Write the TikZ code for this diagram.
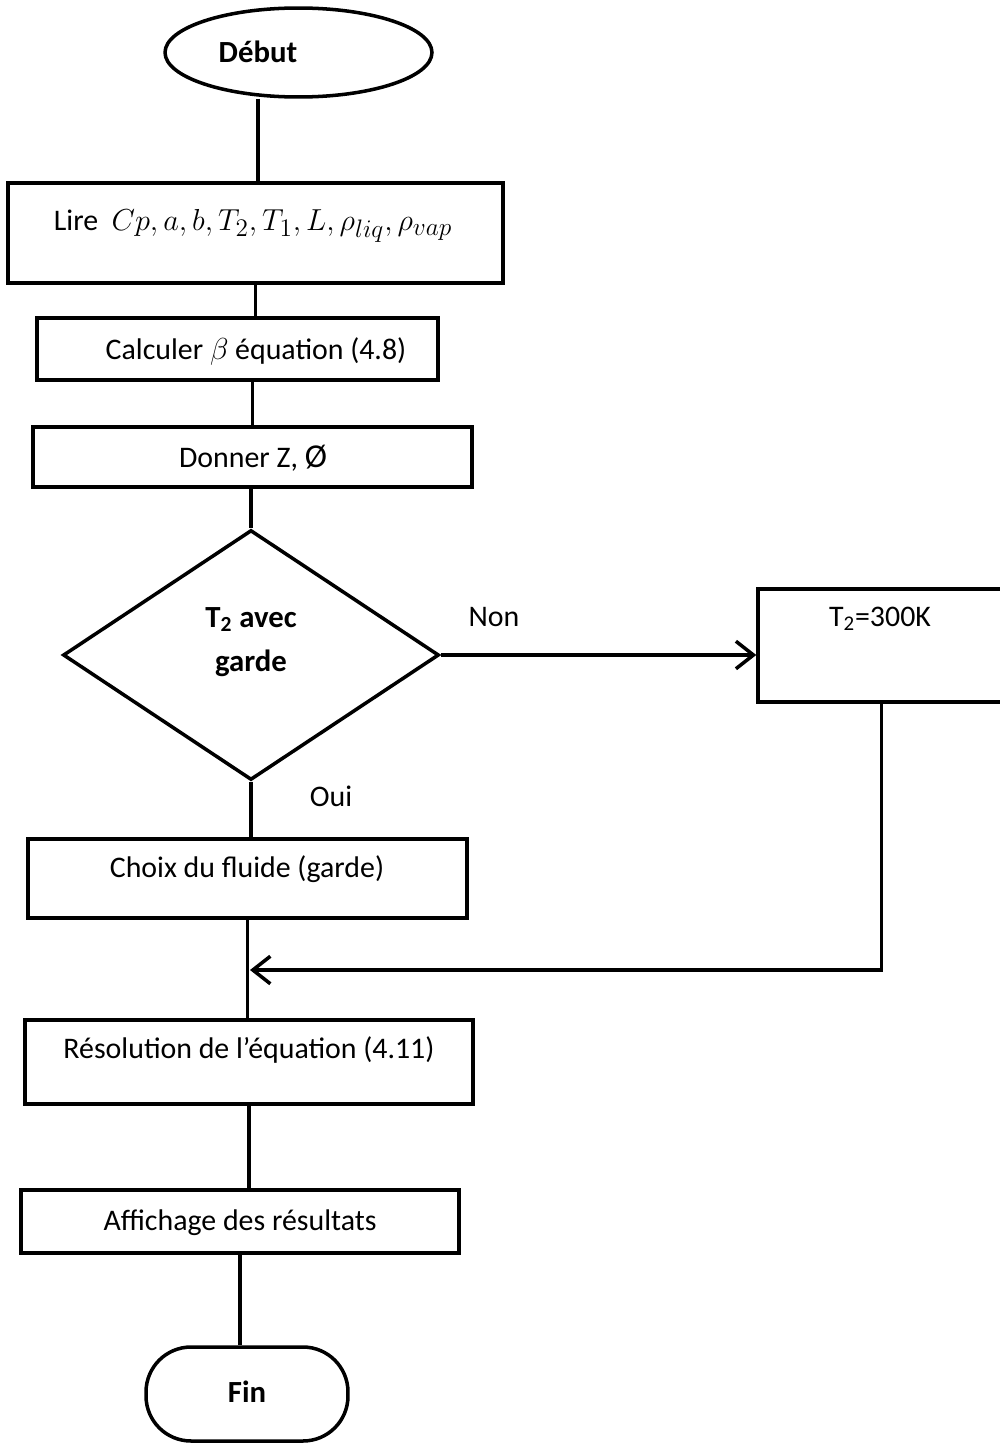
\documentclass[tikz,border=0pt]{standalone}
\usepackage{fontspec}
\setmainfont{Carlito}
\usetikzlibrary{shapes.geometric,arrows.meta}
\begin{document}
\begin{tikzpicture}[x=0.02cm,y=-0.02cm,line width=2pt,
  box/.style={draw,rectangle,inner sep=0pt},
  txt/.style={font=\fontsize{17}{20}\selectfont,inner sep=0pt},
  btxt/.style={font=\fontsize{17.5}{25}\selectfont\bfseries,inner sep=0pt,align=center},
  arr/.style={-{Straight Barb[length=3.5mm,width=5.5mm,line width=2pt]}}]
\useasboundingbox (0,0) rectangle (1000,1443);

% shapes
\node[draw,ellipse,inner sep=0pt,minimum width=5.34cm,minimum height=1.78cm] (debut) at (298.5,52.5) {};
\node[btxt] (debtxt) at (258,52) {Début};

\node[box,minimum width=9.9cm,minimum height=2cm] (lire) at (255.5,233) {};
\node[txt] (liretxt) at (253,226) {Lire\ \ \fontsize{19}{22}\selectfont$Cp, a, b, T_2, T_1, L, \rho_{liq}, \rho_{vap}$};

\node[box,minimum width=8.02cm,minimum height=1.24cm] (calc) at (237.5,349) {};
\node[txt] (calctxt) at (256,352) {Calculer {\fontsize{19}{22}\selectfont$\beta$} équation (4.8)};

\node[box,minimum width=8.78cm,minimum height=1.2cm] (donner) at (252.5,457) {};
\node[txt] (donnertxt) at (253,458) {Donner Z, {\fontsize{19}{22}\selectfont\O}};

\node[draw,diamond,inner sep=0pt,minimum width=7.52cm,minimum height=5cm] (dia) at (251,655) {};
\node[btxt] (diatxt) at (251,642) {T\textsubscript{2} avec\\garde};

\node[box,minimum width=4.94cm,minimum height=2.26cm] (t300) at (881.5,645.5) {};
\node[txt] (t300txt) at (880,619) {T\textsubscript{2}=300K};

\node[box,minimum width=8.78cm,minimum height=1.58cm] (choix) at (247.5,878.5) {};
\node[txt] (choixtxt) at (247,869) {Choix du fluide (garde)};

\node[box,minimum width=8.96cm,minimum height=1.68cm] (resol) at (249,1062) {};
\node[txt] (resoltxt) at (249,1050) {Résolution de l’équation (4.11)};

\node[box,minimum width=8.76cm,minimum height=1.26cm] (affich) at (240,1221.5) {};
\node[txt] (affichtxt) at (240,1223) {Affichage des résultats};

\node[draw,rectangle,rounded corners=0.9cm,inner sep=0pt,minimum width=4.04cm,minimum height=1.88cm] (fin) at (247,1394) {};
\node[btxt] (fintxt) at (247,1392) {Fin};

\node[txt] (non) at (494,617) {Non};
\node[txt] (oui) at (331,796) {Oui};

\coordinate (merge) at (250,970);

% connectors
\draw (debut.south -| debtxt) -- (debtxt |- lire.north);
\draw (lire.south) -- (lire.south |- calc.north);
\draw (donner.north |- calc.south) -- (donner.north);
\draw (dia.north |- donner.south) -- (dia.north);
\draw[arr] (dia.east) -- (dia.east -| t300.west);
\draw[arr] (t300.south) |- (merge);
\draw (dia.south) -- (dia.south |- choix.north);
\draw (choix.south) -- (choix.south |- resol.north);
\draw (resol.south) -- (resol.south |- affich.north);
\draw (affich.south) -- (affich.south |- fin.north);
\end{tikzpicture}
\end{document}
